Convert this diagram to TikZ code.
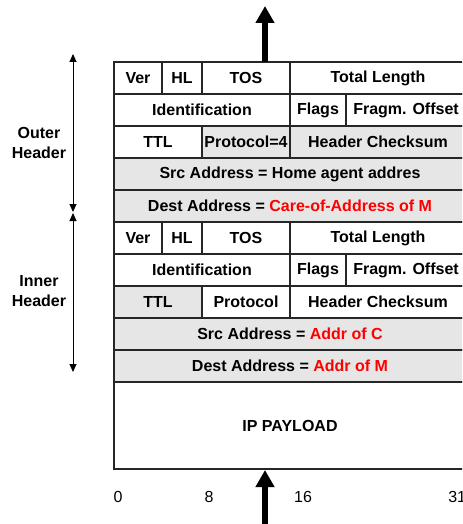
\documentclass[tikz,border=0pt]{standalone}
\usepackage{fontspec}
\setmainfont{Liberation Sans}
\usetikzlibrary{arrows.meta}
\definecolor{cellgray}{HTML}{E6E6E6}
\definecolor{linecol}{HTML}{262626}
\definecolor{redtxt}{HTML}{FF0000}
\newcommand\fld[6]{%
  \node[fld, fill=#5, minimum width={(#3-#2)*0.75pt}, minimum height={32*0.75pt}] (#1) at ({(#2+#3)/2},{#4+16}) {#6};}
\begin{document}
\begin{tikzpicture}[x=0.75pt,y=-0.75pt,
  fld/.style={draw=linecol, line width=1.1pt, inner sep=0pt, font=\bfseries\fontsize{12}{14}\selectfont, text=black},
  sidelbl/.style={align=center, font=\bfseries\fontsize{12}{15}\selectfont},
  bitlbl/.style={font=\fontsize{12}{14}\selectfont, inner sep=0pt},
  bigarrow/.style={line width=6*0.75pt, -{Triangle[length=17*0.75pt, width=18*0.75pt]}},
  sidearrow/.style={line width=0.75pt, {Triangle[length=8*0.75pt, width=7*0.75pt]}-{Triangle[length=8*0.75pt, width=7*0.75pt]}}]
\clip (0,0) rectangle (462,524);
\fill[white] (0,0) rectangle (462,524);
% outer header
\fld{over}{114}{162}{62}{white}{Ver}
\fld{ohl}{162}{202}{62}{white}{HL}
\fld{otos}{202}{290}{62}{white}{TOS}
\fld{olen}{290}{466}{62}{white}{Total Length}
\fld{oid}{114}{290}{94}{white}{Identification}
\fld{oflags}{290}{346}{94}{white}{Flags}
\fld{ofrag}{346}{466}{94}{white}{Fragm. Offset}
\fld{ottl}{114}{202}{126}{white}{TTL}
\fld{oproto}{202}{290}{126}{cellgray}{Protocol=4}
\fld{ocks}{290}{466}{126}{cellgray}{Header Checksum}
\fld{osrc}{114}{466}{158}{cellgray}{Src Address = Home agent addres}
\fld{odst}{114}{466}{190}{cellgray}{Dest Address = \textcolor{redtxt}{Care-of-Address of M}}
% inner header
\fld{iver}{114}{162}{222}{white}{Ver}
\fld{ihl}{162}{202}{222}{white}{HL}
\fld{itos}{202}{290}{222}{white}{TOS}
\fld{ilen}{290}{466}{222}{white}{Total Length}
\fld{iid}{114}{290}{254}{white}{Identification}
\fld{iflags}{290}{346}{254}{white}{Flags}
\fld{ifrag}{346}{466}{254}{white}{Fragm. Offset}
\fld{ittl}{114}{202}{286}{cellgray}{TTL}
\fld{iproto}{202}{290}{286}{white}{Protocol}
\fld{icks}{290}{466}{286}{white}{Header Checksum}
\fld{isrc}{114}{466}{318}{cellgray}{Src Address = \textcolor{redtxt}{Addr of C}}
\fld{idst}{114}{466}{350}{cellgray}{Dest Address = \textcolor{redtxt}{Addr of M}}
% payload
\node[fld, fill=white, minimum width={352*0.75pt}, minimum height={87*0.75pt}] (payload) at (290,425.5) {IP PAYLOAD};
% bit labels
\node[bitlbl] (b0) at (118,497) {0};
\node[bitlbl] (b8) at (209,497) {8};
\node[bitlbl] (b16) at (303,497) {16};
\node[bitlbl, anchor=west] (b31) at (448,497) {31};
% side labels
\node[sidelbl] (outerlbl) at (39,143) {Outer\\Header};
\node[sidelbl] (innerlbl) at (39,291) {Inner\\Header};
% side arrows
\coordinate (otop) at (73,54);
\coordinate (obot) at (73,212);
\coordinate (itop) at (73,213);
\coordinate (ibot) at (73,372);
\draw[sidearrow] (otop) -- (obot);
\draw[sidearrow] (itop) -- (ibot);
% big arrows
\coordinate (outtip) at (265,6);
\coordinate (inbase) at (265,530);
\draw[bigarrow] (265,62) -- (outtip);
\draw[bigarrow] (inbase) -- (265,470);
\end{tikzpicture}
\end{document}
